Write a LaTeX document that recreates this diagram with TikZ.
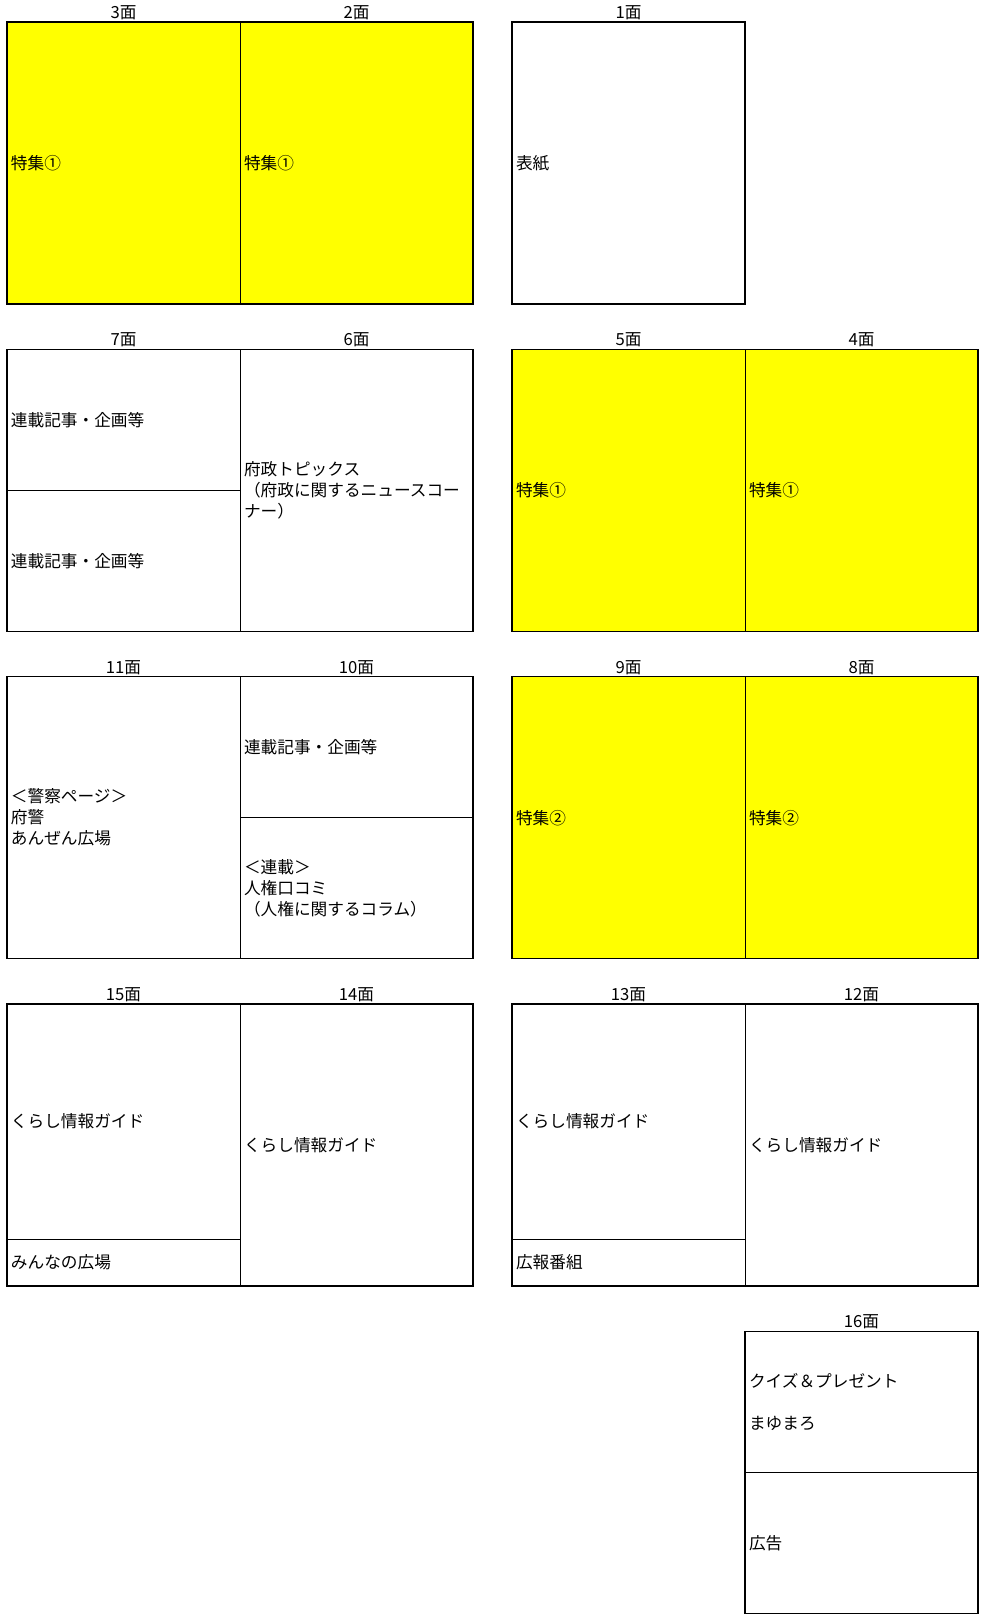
\documentclass[tikz,border=0pt]{standalone}
\usepackage{fontspec}
\setmainfont{Noto Sans CJK JP}
\usetikzlibrary{positioning, fit}
\definecolor{tokushu}{HTML}{FFFF00}

\begin{document}
\begin{tikzpicture}[
    x=0.75pt, y=-0.75pt,
    node distance=0pt and 0pt,
    cell/.style={draw, line width=0.6pt, fill=white, anchor=north west, inner xsep=3pt, inner ysep=0pt, outer sep=0pt, text width=168.75pt, align=left, minimum height=#1, font=\fontsize{12.5}{15.75}\selectfont},
    cell/.default=211.5pt,
    feature/.style={cell, fill=tokushu},
    spread/.style={draw, line width=1.1pt, inner sep=0pt},
    pagenum/.style={font=\fontsize{12.5}{15}\selectfont, inner sep=0pt}
  ]
    \useasboundingbox (0,0) rectangle (985,1620);

    % Row 1
    \node[feature] (p3) at (7,22) {特集①};
    \node[feature, right=of p3] (p2) {特集①};
    \node[cell, right=29.25pt of p2] (p1) {表紙};

    % Row 2
    \node[cell=105.75pt, below=34pt of p3.south west, anchor=north west] (p7a) {連載記事・企画等};
    \node[cell=105.75pt, below=of p7a] (p7b) {連載記事・企画等};
    \node[cell] (p6) at (p7a.north east) {府政トピックス\\（府政に関するニュースコー\\ナー）};
    \node[feature, below=34pt of p1.south west, anchor=north west] (p5) {特集①};
    \node[feature, right=of p5] (p4) {特集①};

    % Row 3
    \node[cell, below=34pt of p7b.south west, anchor=north west] (p11) {＜警察ページ＞\\府警\\あんぜん広場};
    \node[cell=105.75pt] (p10a) at (p11.north east) {連載記事・企画等};
    \node[cell=105.75pt, below=of p10a] (p10b) {＜連載＞\\人権口コミ\\（人権に関するコラム）};
    \node[feature, below=34pt of p5.south west, anchor=north west] (p9) {特集②};
    \node[feature, right=of p9] (p8) {特集②};

    % Row 4
    \node[cell=176.25pt, below=34pt of p11.south west, anchor=north west] (p15a) {くらし情報ガイド};
    \node[cell=35.25pt, below=of p15a] (p15b) {みんなの広場};
    \node[cell] (p14) at (p15a.north east) {くらし情報ガイド};
    \node[cell=176.25pt, below=34pt of p9.south west, anchor=north west] (p13a) {くらし情報ガイド};
    \node[cell=35.25pt, below=of p13a] (p13b) {広報番組};
    \node[cell] (p12) at (p13a.north east) {くらし情報ガイド};

    % Row 5
    \node[cell=105.75pt, below=34pt of p12.south west, anchor=north west] (p16a) {クイズ＆プレゼント\\[15.75pt]まゆまろ};
    \node[cell=105.75pt, below=of p16a] (p16b) {広告};

    % Spread frames
    \node[spread, fit=(p3)(p2)] (s1) {};
    \node[spread, fit=(p1)] (s2) {};
    \node[spread, fit=(p7a)(p6)(p7b)] (s3) {};
    \node[spread, fit=(p5)(p4)] (s4) {};
    \node[spread, fit=(p11)(p10a)(p10b)] (s5) {};
    \node[spread, fit=(p9)(p8)] (s6) {};
    \node[spread, fit=(p15a)(p15b)(p14)] (s7) {};
    \node[spread, fit=(p13a)(p13b)(p12)] (s8) {};
    \node[spread, fit=(p16a)(p16b)] (s9) {};

    % Page numbers
    \foreach \n/\p in {3/p3, 2/p2, 1/p1, 7/p7a, 6/p6, 5/p5, 4/p4, 11/p11, 10/p10a, 9/p9, 8/p8, 15/p15a, 14/p14, 13/p13a, 12/p12, 16/p16a}
      \node[pagenum, above=1.5pt of \p] (n\n) {{\n}面};
  \end{tikzpicture}
\end{document}
